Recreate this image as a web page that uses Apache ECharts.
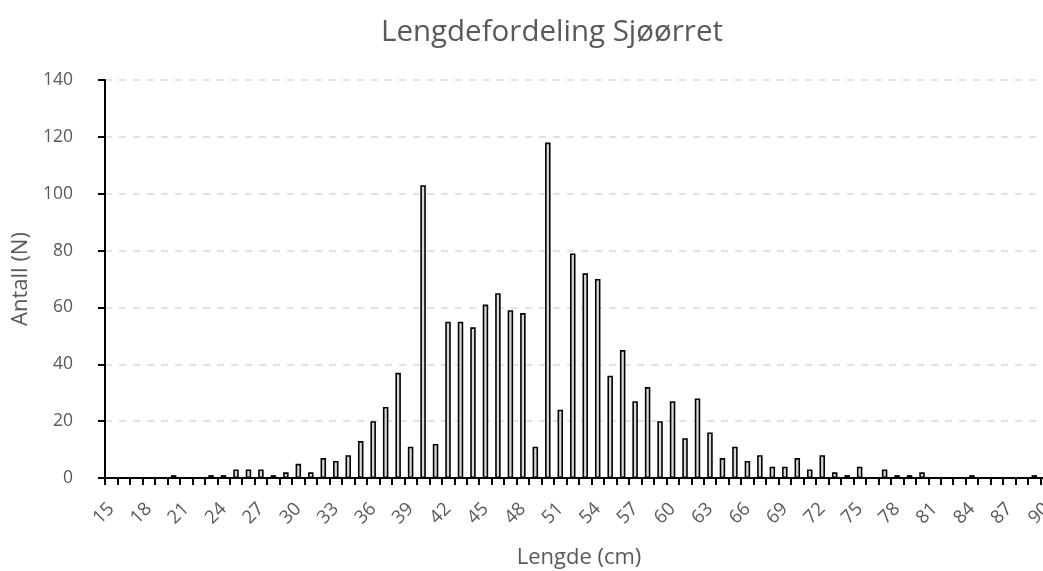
<!DOCTYPE html>
<html>
<head>
<meta charset="utf-8">
<script src="https://cdn.jsdelivr.net/npm/echarts@6/dist/echarts.min.js"></script>
<style>
html,body{margin:0;padding:0;background:#fff;}
#chart{width:1043px;height:571px;}
</style>
</head>
<body>
<div id="chart"></div>
<script>
const titleText = 'Lengdefordeling Sjøørret';
const xAxisName = 'Lengde (cm)';
const yAxisName = 'Antall (N)';
const categories = [];
for (let c = 15; c <= 90; c++) categories.push(String(c));
const counts = [
  0, 0, 0, 0, 0, 1, 0, 0, 1, 1,      // 15-24
  3, 3, 3, 1, 2, 5, 2, 7, 6, 8,      // 25-34
  13, 20, 25, 37, 11, 103, 12, 55, 55, 53, // 35-44
  61, 65, 59, 58, 11, 118, 24, 79, 72, 70, // 45-54
  36, 45, 27, 32, 20, 27, 14, 28, 16, 7,   // 55-64
  11, 6, 8, 4, 4, 7, 3, 8, 2, 1,     // 65-74
  4, 0, 3, 1, 1, 2, 0, 0, 0, 1,      // 75-84
  0, 0, 0, 0, 1, 0                   // 85-90
];
const yTicks = {min: 0, max: 140, interval: 20};

const chart = echarts.init(document.getElementById('chart'));
const FONT = 'Open Sans';
chart.setOption({
  backgroundColor: '#ffffff',
  animation: false,
  textStyle: {fontFamily: FONT},
  title: {
    text: titleText,
    left: 547,
    textAlign: 'center',
    top: 13,
    textStyle: {fontFamily: FONT, fontSize: 29.5, fontWeight: 'normal', color: '#595959'}
  },
  grid: {left: 105, width: 948, top: 80, height: 398, outerBoundsMode: 'none', containLabel: false},
  xAxis: {
    type: 'category',
    data: categories,
    boundaryGap: true,
    name: xAxisName,
    nameLocation: 'middle',
    nameGap: 69,
    nameTextStyle: {fontFamily: FONT, fontSize: 22, color: '#595959'},
    axisLine: {lineStyle: {color: '#000000', width: 2}},
    axisTick: {show: true, length: 7, interval: 0, lineStyle: {color: '#000000', width: 2}},
    axisLabel: {interval: 2, rotate: 45, margin: 28, fontFamily: FONT, fontSize: 18.5, color: '#595959'},
    splitLine: {show: false}
  },
  yAxis: {
    type: 'value',
    min: yTicks.min, max: yTicks.max, interval: yTicks.interval,
    name: yAxisName,
    nameLocation: 'middle',
    nameGap: 69,
    nameTextStyle: {fontFamily: FONT, fontSize: 22, color: '#595959'},
    axisLine: {show: true, lineStyle: {color: '#000000', width: 2}},
    axisTick: {show: true, length: 7, lineStyle: {color: '#000000', width: 2}},
    axisLabel: {margin: 32, fontFamily: FONT, fontSize: 17.5, color: '#595959'},
    splitLine: {show: true, lineStyle: {color: '#d9d9d9', width: 1.5, type: [7, 7]}}
  },
  series: [{
    type: 'bar',
    data: counts,
    barWidth: 5.5,
    itemStyle: {color: '#d9d9d9', borderColor: '#000000', borderWidth: 1.6}
  }]
});
</script>
</body>
</html>
